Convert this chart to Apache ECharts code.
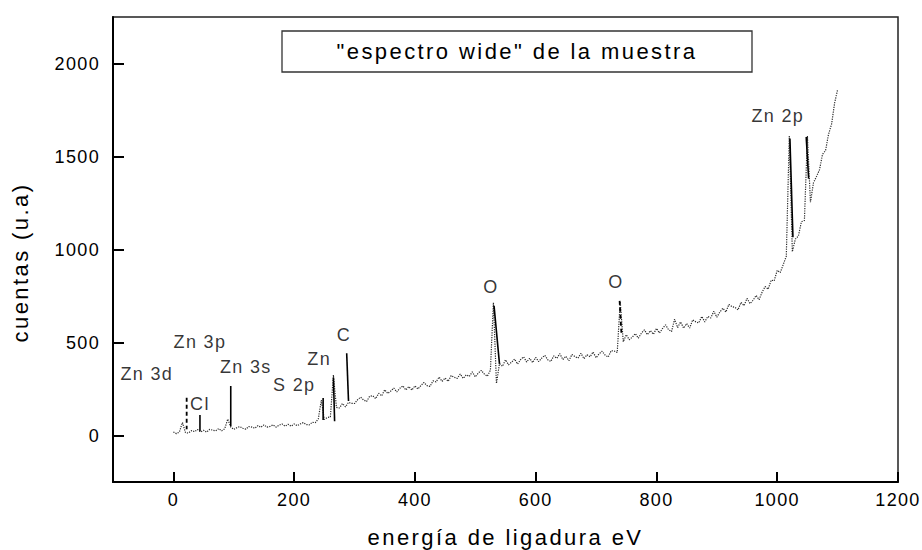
<!DOCTYPE html>
<html><head><meta charset="utf-8">
<script src="https://cdn.jsdelivr.net/npm/echarts@6/dist/echarts.min.js"></script>
<style>
html,body{margin:0;padding:0;background:#fff;}
#chart{width:922px;height:550px;}
#chart svg text{letter-spacing:0.075em;}
#chart svg text[style*="22px"]{letter-spacing:0.11em;}
</style></head><body><div id="chart"></div>
<script>
// binding energy (eV)
const energy = [
0,5,10,15,20,25,30,35,40,45,50,55,60,65,70,75,80,85,90,95,
100,105,110,115,120,125,130,135,140,145,150,155,160,165,170,175,180,185,190,195,
200,205,210,215,220,225,230,235,240,245,250,255,260,265,270,275,280,285,290,295,
300,305,310,315,320,325,330,335,340,345,350,355,360,365,370,375,380,385,390,395,
400,405,410,415,420,425,430,435,440,445,450,455,460,465,470,475,480,485,490,495,
500,505,510,515,520,525,530,535,540,545,550,555,560,565,570,575,580,585,590,595,
600,605,610,615,620,625,630,635,640,645,650,655,660,665,670,675,680,685,690,695,
700,705,710,715,720,725,730,735,740,745,750,755,760,765,770,775,780,785,790,795,
800,805,810,815,820,825,830,835,840,845,850,855,860,865,870,875,880,885,890,895,
900,905,910,915,920,925,930,935,940,945,950,955,960,965,970,975,980,985,990,995,
1000,1005,1010,1015,1020,1025,1030,1035,1040,1045,1050,1055,1060,1065,1070,1075,1080,1085,1090,1095,1100
];
// counts (u.a) (noisy spectrum)
const counts = [
19,10,19,70,16,13,26,21,32,19,28,18,33,29,25,37,25,36,88,46,
33,42,48,39,34,48,45,39,53,44,57,45,49,57,45,55,62,50,60,50,
62,53,62,69,59,57,71,69,89,190,86,97,100,325,151,148,172,154,178,173,
172,192,206,191,183,211,214,198,227,213,246,226,239,255,234,254,267,245,263,244,
267,250,269,285,268,264,294,288,314,291,309,291,322,313,307,330,307,326,318,342,
315,336,350,330,319,351,715,280,386,372,407,380,394,411,384,408,423,395,415,392,
420,397,416,431,407,398,428,415,440,408,426,402,436,424,416,442,413,434,423,449,
418,439,453,432,422,456,454,446,720,504,542,515,529,548,523,550,568,542,564,544,
576,551,575,595,569,559,625,580,611,577,602,578,622,611,605,640,611,640,632,668,
636,664,684,664,705,693,689,675,716,698,737,709,727,753,730,771,801,787,835,832,
888,876,920,964,1610,988,1056,1072,1149,1156,1610,1254,1359,1392,1429,1512,1532,1620,1674,1787,1860
];
// peak marker lines: [E top, counts top, E bottom, counts bottom]
const peakLinesSolid = [
  [44,110,44,23],
  [95,266,95,50],
  [248,201,248,83],
  [265,311,267,77],
  [287,442,290,185],
  [531,697,540,385],
  [1021,1597,1026,1066],
  [1048,1605,1052,1381]
];
const peakLinesDashed = [
  [22,203,22,34],
  [739,724,742,546]
];
// peak annotations
const labelNames = ['Zn 3d','Zn 3p','Cl','Zn 3s','S 2p','Zn','C','O','O','Zn 2p'];
const labelE = [-44,44,44,120,200,241.5,282.6,526,733,1001];
const labelV = [329,504,172,369,271,410,541,801,823,1718];
const xTicks = [0,200,400,600,800,1000,1200];
const yTicks = [0,500,1000,1500,2000];
const boxTitle = '"espectro wide" de la muestra';

const FONT = '"Liberation Sans", Arial, sans-serif';
const chart = echarts.init(document.getElementById('chart'), null, {renderer:'svg'});

const series = [];
series.push({
  type:'line', data: energy.map((e,i)=>[e, counts[i]]), showSymbol:false, silent:true,
  lineStyle:{color:'#2a2a2a', width:1.2, type:[1.2,1.2]}, z:2
});
peakLinesSolid.forEach(p=>series.push({
  type:'line', data:[[p[0],p[1]],[p[2],p[3]]], showSymbol:false, silent:true,
  lineStyle:{color:'#000', width:1.6}, z:3
}));
peakLinesDashed.forEach(p=>series.push({
  type:'line', data:[[p[0],p[1]],[p[2],p[3]]], showSymbol:false, silent:true,
  lineStyle:{color:'#000', width:1.8, type:[4,3]}, z:3
}));
series.push({
  type:'scatter', silent:true, symbolSize:1, itemStyle:{color:'rgba(0,0,0,0)'},
  data: labelNames.map((n,i)=>({name:n, value:[labelE[i], labelV[i]]})),
  label:{show:true, position:'inside', formatter:'{b}', color:'#000', fontSize:18, fontFamily:FONT},
  z:5
});
const plain = v => String(v);

chart.setOption({
  animation:false,
  backgroundColor:'#fff',
  grid:{left:113, right:24, top:17, bottom:68, show:true, borderColor:'#222', borderWidth:1.5, containLabel:false, outerBoundsMode:'none'},
  xAxis:{
    type:'value', min:-100, max:1200,
    axisLine:{show:true, onZero:false, lineStyle:{color:'#000', width:2}},
    axisTick:{show:true, inside:true, length:10, customValues:xTicks, lineStyle:{color:'#000', width:2}},
    axisLabel:{customValues:xTicks, formatter:plain, margin:9, fontSize:18, color:'#000', fontFamily:FONT},
    splitLine:{show:false},
    name:'energía de ligadura eV', nameLocation:'middle', nameGap:44,
    nameTextStyle:{fontSize:22, color:'#000', fontFamily:FONT}
  },
  yAxis:{
    type:'value', min:-250, max:2250,
    axisLine:{show:true, onZero:false, lineStyle:{color:'#000', width:2}},
    axisTick:{show:true, inside:true, length:11, customValues:yTicks, lineStyle:{color:'#000', width:2}},
    axisLabel:{customValues:yTicks, formatter:plain, margin:13, fontSize:18, color:'#000', fontFamily:FONT},
    splitLine:{show:false},
    name:'cuentas (u.a)', nameLocation:'middle', nameGap:82,
    nameTextStyle:{fontSize:22, color:'#000', fontFamily:FONT, padding:[0,26,0,0]}
  },
  graphic:[
    {type:'rect', shape:{x:282, y:31, width:470, height:41}, style:{fill:'#fff', stroke:'#333', lineWidth:1.3}, z:10, silent:true},
    {type:'text', x:517, y:51, style:{text:boxTitle, fontSize:22, fontFamily:FONT, fill:'#000', textAlign:'center', textVerticalAlign:'middle'}, z:11, silent:true}
  ],
  series: series
});
</script></body></html>
